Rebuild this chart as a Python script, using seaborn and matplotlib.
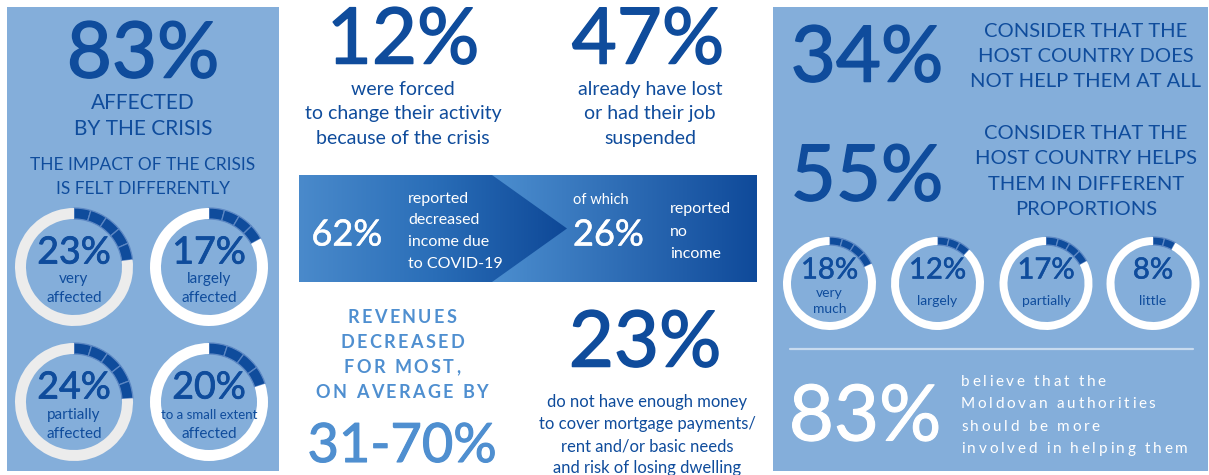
import math
import numpy as np
import matplotlib
matplotlib.use("Agg")
import matplotlib.pyplot as plt
import matplotlib.patheffects as pe
from matplotlib.patches import Rectangle, Polygon
from matplotlib.font_manager import FontProperties
import seaborn as sns

# ---- data ----
affected_total = "83%"
impact_values = [23, 17, 24, 20]
impact_labels = [["very", "affected"], ["largely", "affected"],
                 ["partially", "affected"], ["to a small extent", "affected"]]
changed_activity = "12%"
lost_job = "47%"
decreased_income = "62%"
no_income = "26%"
revenue_drop = "31-70%"
no_money = "23%"
no_help = "34%"
some_help = "55%"
help_values = [18, 12, 17, 8]
help_labels = [["very", "much"], ["largely"], ["partially"], ["little"]]
want_help = "83%"

# ---- style ----
sns.set_theme(style="white")
plt.rcParams["font.family"] = ["Lato", "DejaVu Sans"]

W, H = 1209, 475
panel = "#84AEDA"
dark = "#0F4C9C"
mid = "#4F8FD0"
divider = "#5D88C4"
BIG = 56

fig = plt.figure(figsize=(W / 100, H / 100), dpi=100)
ax = fig.add_axes([0, 0, 1, 1])
ax.axis("off")
renderer = fig.canvas.get_renderer()


def txt(x, y, s, size, color=dark, ha="center", thick=0):
    t = ax.text(x, H - y, s, fontsize=size, color=color,
                ha=ha, va="center_baseline")
    if thick:
        # thicken the strokes a little, the original font is heavier
        t.set_path_effects([pe.withStroke(linewidth=thick, foreground=color)])


def text_w(s, fp):
    return renderer.get_text_width_height_descent(s, fp, ismath=False)[0]


def spaced(x, y, s, size, spacing, color, weight="normal", ha="center"):
    # letter-spaced text, y is the baseline
    fp = FontProperties(family=["Lato", "DejaVu Sans"], size=size, weight=weight)
    total = text_w(s, fp) + spacing * (len(s) - 1)
    x0 = x - total / 2 if ha == "center" else x
    for i, ch in enumerate(s):
        if ch == " ":
            continue
        xi = x0 + text_w(s[:i + 1], fp) - text_w(ch, fp) + i * spacing
        ax.text(xi, H - y, ch, fontproperties=fp, color=color, ha="left", va="baseline")


def donut(cx, cy, r, width, value, ring):
    n = math.ceil(value / 5)
    parts = [value / n] * n + [100 - value]
    cols = [dark] * n + [ring]
    wedges, _ = ax.pie(parts, colors=cols, startangle=90, counterclock=False,
                       radius=r, center=(cx, H - cy),
                       wedgeprops=dict(width=width, linewidth=0))
    for w in wedges[:n]:
        w.set_edgecolor(divider)
        w.set_linewidth(0.9)


# ---- panels ----
ax.add_patch(Rectangle((7, H - 471), 272, 464, fc=panel, ec="none", zorder=0))
ax.add_patch(Rectangle((773, H - 471), 435, 464, fc=panel, ec="none", zorder=0))

# ---- left panel ----
txt(143, 49, affected_total, BIG, thick=1.1)
txt(143, 101, "AFFECTED", 15)
txt(143, 127, "BY THE CRISIS", 15)
txt(143, 163, "THE IMPACT OF THE CRISIS", 12.5)
txt(143, 187, "IS FELT DIFFERENTLY", 12.5)

left_centers = [(74, 267), (209, 267), (74, 402), (209, 402)]
rings = ["#ECECEC", "white", "#ECECEC", "white"]
for (cx, cy), v, lab, ring in zip(left_centers, impact_values, impact_labels, rings):
    donut(cx, cy, 59, 11, v, ring)
    txt(cx, cy - 18, f"{v}%", 27, thick=0.6)
    if len(lab[0]) > 10:
        txt(cx, cy + 12, lab[0], 9.5)
    else:
        txt(cx, cy + 11, lab[0], 11)
    txt(cx, cy + 30, lab[1], 11)

# ---- center top ----
txt(403, 35, changed_activity, BIG, thick=1.1)
for i, line in enumerate(["were forced", "to change their activity", "because of the crisis"]):
    txt(403, 88 + i * 24.5, line, 14)
txt(648, 35, lost_job, BIG, thick=1.1)
for i, line in enumerate(["already have lost", "or had their job", "suspended"]):
    txt(650, 88 + i * 24.5, line, 14)

# ---- banner with gradient arrow ----
grad = np.linspace(0, 1, 256).reshape(1, -1)
cmap_r = sns.blend_palette(["#4C8ECF", "#0F4A9A"], as_cmap=True)
cmap_l = sns.blend_palette(["#4A8ACB", "#2A6EB8", "#0E4897"], as_cmap=True)
im_r = ax.imshow(grad, cmap=cmap_r, extent=(492, 757, H - 282, H - 175),
                 aspect="auto", zorder=1, interpolation="bilinear")
im_l = ax.imshow(grad, cmap=cmap_l, extent=(299, 567, H - 282, H - 175),
                 aspect="auto", zorder=2, interpolation="bilinear")
arrow = Polygon([(299, H - 175), (492, H - 175), (567, H - 228.5),
                 (492, H - 282), (299, H - 282)], closed=True, fc="none", ec="none")
ax.add_patch(arrow)
im_l.set_clip_path(arrow)

txt(347, 232, decreased_income, 26, color="white", thick=0.4)
for i, line in enumerate(["reported", "decreased", "income due", "to COVID-19"]):
    txt(408, 197 + i * 22, line, 11.5, color="white", ha="left")
txt(573, 199, "of which", 10.5, color="white", ha="left")
txt(573, 232, no_income, 26, color="white", ha="left", thick=0.4)
for i, line in enumerate(["reported", "no", "income"]):
    txt(670, 207 + i * 23, line, 11.5, color="white", ha="left")

# ---- center bottom ----
for i, line in enumerate(["REVENUES", "DECREASED", "FOR MOST,", "ON AVERAGE BY"]):
    spaced(402, 323 + i * 25, line, 13, 2.4, mid, weight="bold")
txt(402, 442, revenue_drop, 39, color=mid, thick=0.8)
txt(645, 338, no_money, BIG, thick=1.1)
for i, line in enumerate(["do not have enough money", "to cover mortgage payments/",
                          "rent and/or basic needs", "and risk of losing dwelling"]):
    txt(647, 400 + i * 22.3, line, 12)

# ---- right panel ----
txt(867, 53, no_help, BIG, thick=1.1)
for i, line in enumerate(["CONSIDER THAT THE", "HOST COUNTRY DOES", "NOT HELP THEM AT ALL"]):
    txt(1086, 30 + i * 25, line, 14.5)
txt(867, 172, some_help, BIG, thick=1.1)
for i, line in enumerate(["CONSIDER THAT THE", "HOST COUNTRY HELPS",
                          "THEM IN DIFFERENT", "PROPORTIONS"]):
    txt(1086, 132 + i * 25.3, line, 14.5)

right_x = [829.5, 937.5, 1046, 1153]
for cx, v, lab in zip(right_x, help_values, help_labels):
    donut(cx, 283.5, 46.5, 8, v, "white")
    txt(cx, 268, f"{v}%", 21, thick=0.4)
    if len(lab) == 2:
        txt(cx, 292, lab[0], 10)
        txt(cx, 308, lab[1], 10)
    else:
        txt(cx, 300, lab[0], 10)

ax.plot([790, 1193], [H - 349, H - 349], color="#C8DBEF", lw=1.6, zorder=1)
txt(865, 412, want_help, BIG, color="white", thick=0.8)
for i, line in enumerate(["believe that the", "Moldovan authorities",
                          "should be more", "involved in helping them"]):
    spaced(961, 386 + i * 22.3, line, 11, 2.7, "white", ha="left")

ax.set_xlim(0, W)
ax.set_ylim(0, H)
fig.savefig("out.png", dpi=100, facecolor="white")
